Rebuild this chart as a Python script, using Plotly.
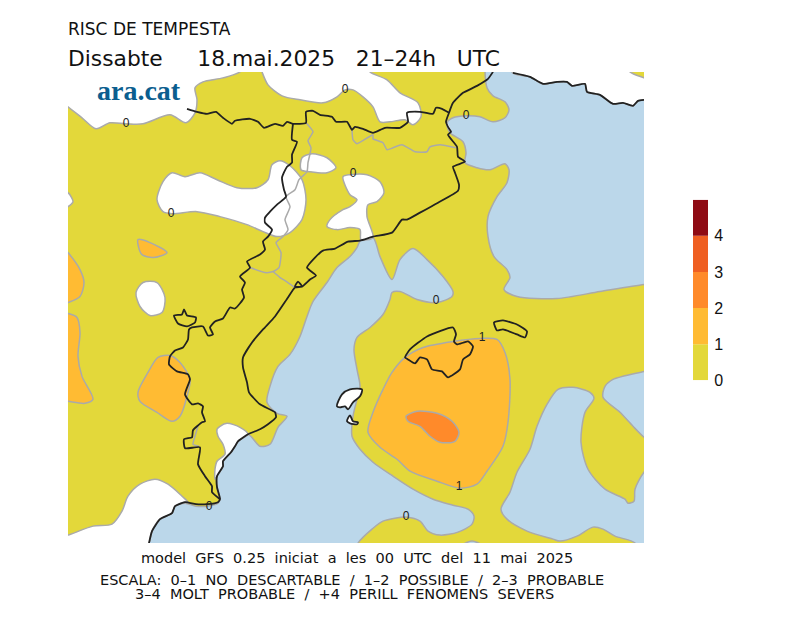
#%% imports

import plotly.graph_objects as go

#%% data (map outlines in map grid units)

map_x_range = [68, 644]
map_y_range = [544, 72]

# risk below 0 over the sea
blue_main = [(361,240),(373,238),(380,257),(392,280),(400,260),(413,249),(427,260),(443,277),(453,292),(452,297),
  (437,303),(417,300),(400,292),(392,293),(390,300),(383,315),(370,328),(357,338),(354,350),(357,370),(360,387),
  (357,400),(353,417),(352,437),(360,450),(373,463),(393,477),(413,490),(433,500),(453,506),(468,510),(474,517),
  (472,525),(458,533),(440,536),(428,532),(420,522),(407,518),(383,522),(372,530),(358,544),(352,560),(140,560),
  (149,544),(152,532),(160,520),(172,514),(175,507),(185,504),(196,507),(207,507),(218,504),(220,500),(217,488),
  (217,477),(223,467),(223,462),(231,453),(235,447),(238,442),(248,435),(260,447),(270,445),(278,428),(287,417),
  (277,414),(267,403),(270,387),(278,367),(290,355),(300,337),(307,317),(313,302),(327,283),(337,268),(350,257),
  (357,248),(361,240)]
blue_north = [(487,60),(487,88),(493,96),(505,102),(509,110),(505,118),(493,122),(480,117),(467,116),(453,118),
  (447,123),(450,133),(463,142),(466,153),(465,163),(477,168),(490,170),(505,164),(509,170),(507,183),(497,197),
  (488,217),(488,237),(494,257),(507,270),(510,278),(504,290),(517,297),(557,299),(600,292),(644,285),(660,283),
  (660,100),(644,100),(638,101),(633,106),(623,103),(613,104),(600,95),(587,92),(585,84),(572,86),(567,82),
  (557,82),(543,84),(530,77),(513,73),(508,60),(487,60)]
blue_east = [(558,390),(573,388),(590,393),(594,399),(585,413),(581,443),(588,470),(605,490),(625,500),(628,504),
  (634,502),(635,490),(644,473),(660,460),(660,560),(640,560),(635,544),(615,537),(603,530),(593,528),(577,537),
  (560,542),(553,540),(527,532),(507,520),(501,510),(510,493),(517,473),(530,450),(537,427),(547,405),(558,390)]
blue_ne = [(660,368),(644,372),(613,380),(605,387),(603,398),(620,413),(633,427),(644,438),(660,450),(660,368)]
blue_bottom = [(456,550),(472,542),(488,550),(456,550)]

# risk below 0 over land
white_nw = [(60,101),(68,107),(82,118),(96,129),(110,123),(126,124),(143,124),(170,115),(186,123),(195,113),(197,100),
  (195,88),(203,82),(223,78),(240,72),(250,60),(60,60),(60,101)]
white_north = [(258,60),(262,72),(268,85),(282,96),(300,100),(323,103),(337,97),(345,90),(353,90),(363,97),(373,107),
  (380,122),(390,122),(405,120),(413,125),(421,117),(418,103),(400,93),(387,80),(370,72),(362,60),(258,60)]
white_west = [(60,190),(68,193),(73,202),(68,207),(60,210),(60,190)]
white_central = [(157,200),(163,182),(172,173),(185,177),(200,173),(217,180),(237,188),(257,188),(268,180),(272,165),
  (280,161),(290,166),(302,180),(306,200),(302,220),(290,233),(277,237),(263,232),(247,225),(220,217),(197,212),
  (172,214),(163,212),(157,200)]
white_small = [(302,158),(312,154),(327,158),(336,168),(327,173),(310,172),(301,170),(302,158)]
white_east = [(350,175),(367,175),(380,182),(384,193),(377,202),(368,205),(367,217),(373,238),(361,240),(360,230),
  (350,228),(337,230),(327,227),(330,220),(343,210),(350,207),(357,200),(350,195),(343,177),(350,175)]
white_oval = [(136,293),(143,283),(157,283),(165,298),(162,313),(150,316),(140,307),(136,293)]
white_south = [(220,427),(227,424),(240,428),(248,435),(238,442),(235,447),(231,453),(223,462),(223,467),(217,477),
  (215,480),(215,470),(217,462),(225,455),(223,445),(218,437),(217,430),(220,427)]
white_sw = [(60,538),(68,536),(93,527),(112,525),(122,512),(128,497),(140,485),(155,480),(168,485),(182,497),(188,503),
  (185,503),(175,507),(172,514),(160,520),(152,532),(149,544),(140,560),(60,560),(60,538)]
white_ne = [(513,73),(530,77),(543,84),(557,82),(567,82),(572,86),(585,84),(587,92),(600,95),(613,104),(623,103),
  (633,106),(638,101),(644,100),(660,100),(660,84),(644,78),(630,72),(622,60),(508,60),(513,73)]
white_sliver = [(447,123),(450,128),(451,133),(448,128),(447,123)]

# risk 1-2
orange_mallorca = [(405,358),(423,348),(453,342),(480,339),(497,340),(505,353),(510,380),(508,423),(503,447),(487,472),
  (477,485),(460,489),(437,482),(410,472),(397,460),(380,448),(368,433),(373,413),(383,390),(392,373),(405,358)]
orange_small = [(138,240),(150,243),(167,253),(153,258),(142,255),(138,245),(138,240)]
orange_edge_a = [(60,245),(68,253),(80,270),(84,283),(80,297),(68,303),(60,305),(60,245)]
orange_edge_b = [(60,313),(68,314),(77,318),(80,333),(78,357),(82,377),(93,400),(85,404),(68,402),(60,401),(60,313)]
orange_inland = [(170,356),(180,363),(190,380),(187,397),(180,417),(172,422),(157,413),(140,402),(138,393),(148,373),
  (158,358),(170,356)]

# risk 2-3
dark_orange = [(406,417),(417,412),(437,414),(452,422),(459,433),(455,442),(440,443),(430,437),(420,427),(408,422),(406,417)]

# inner region borders
grey_west = [(306,123),(313,132),(308,141),(311,148),(308,163),(307,172),(299,180),(295,190),(286,197),(290,207),(285,220),
  (288,230),(283,237),(276,243),(281,253),(279,268),(273,272),(265,273),(250,268)]
grey_delta = [(273,272),(280,278),(285,281),(295,288)]
grey_north = [(352,130),(353,140),(357,144),(373,135),(373,139),(383,143),(387,150),(393,148),(402,145),(415,152),
  (427,152),(430,147),(440,145),(456,148)]
grey_south = [(198,427),(195,437),(193,445),(199,447)]

# coast and outer borders
black_coast = [(149,544),(152,532),(160,520),(172,514),(175,507),(185,503),(196,505),(207,505),(218,503),(220,500),(217,488),
  (217,477),(223,467),(223,462),(231,453),(235,447),(238,442),(248,435),(260,430),(268,425),(276,418),(275,413),
  (260,405),(249,393),(247,383),(243,368),(243,358),(252,343),(263,330),(275,317),(288,298),(295,288),(302,287),
  (298,282),(295,287),(302,287),(310,280),(316,276),(307,268),(315,258),(323,251),(335,249),(348,242),(360,241),
  (373,237),(392,233),(402,220),(407,220),(420,213),(438,203),(458,191),(459,185),(455,173),(453,167),(465,162),
  (458,157),(457,147),(448,135),(451,132),(448,127),(446,122),(449,113),(453,103),(463,93),(477,86),(488,79),(493,72)]
black_inland = [(220,500),(212,493),(212,487),(205,477),(198,465),(200,448),(185,449),(184,440),(192,438),(193,431),
  (202,423),(205,422),(202,413),(203,407),(198,404),(192,405),(185,395),(190,380),(188,375),(177,372),(169,365),
  (170,357),(175,351),(183,348),(188,340),(189,330),(192,328),(203,327),(208,336),(213,335),(210,328),(215,322),
  (223,319),(230,308),(235,309),(244,298),(242,290),(245,283),(240,277),(250,268),(247,262),(260,255),(265,250),
  (263,242),(268,237),(272,230),(265,223),(265,218),(270,212),(277,205),(286,197),(284,190),(282,178),(287,167),
  (292,163),(292,155),(297,142),(292,140),(293,124)]
black_north = [(187,109),(197,112),(207,114),(216,112),(223,118),(232,124),(235,121),(250,119),(258,122),(264,128),
  (275,124),(283,126),(287,122),(293,124),(306,123),(306,112),(313,111),(320,115),(332,117),(336,122),(347,122),
  (352,130),(355,127),(363,129),(373,133),(385,128),(400,128),(408,122),(407,113),(420,112),(433,114),(436,108),
  (442,109),(449,113)]
black_enclave = [(174,316),(182,315),(184,310),(187,316),(196,318),(195,323),(187,327),(178,324),(174,316)]
black_french = [(513,73),(530,77),(543,84),(557,82),(567,82),(572,86),(585,84),(587,92),(600,95),(613,104),(623,103),
  (633,106),(638,101),(644,100)]
black_mallorca = [(405,358),(410,350),(427,337),(453,328),(456,335),(454,342),(457,345),(468,342),(473,347),(470,355),
  (463,360),(460,370),(448,378),(442,372),(432,370),(427,360),(420,358),(415,364),(408,360),(405,358)]
black_menorca = [(494,323),(503,321),(517,325),(527,332),(525,338),(517,335),(503,330),(497,331),(494,323)]
black_ibiza = [(337,407),(342,395),(350,390),(362,390),(360,397),(353,403),(348,410),(345,407),(340,408),(337,407)]
black_formentera = [(347,422),(350,416),(353,422),(358,423),(357,425),(350,424),(347,422)]

# contour labels
label_x = [126, 345, 466, 353, 171, 436, 406, 209, 482, 459]
label_y = [124, 90, 116, 174, 214, 302, 518, 508, 339, 488]
label_text = ['0', '0', '0', '0', '0', '0', '0', '0', '1', '1']

# colour scale
scale_levels = [0, 1, 2, 3, 4]
scale_steps = [1, 1, 1, 1, 1]
scale_colors = ['#e3d83a', '#ffbb33', '#ff8a2a', '#ef5f22', '#8f0b14']

title_top = 'RISC DE TEMPESTA'
title_main = 'Dissabte\u00a0\u00a0\u00a0\u00a0\u00a018.mai.2025\u00a0\u00a0\u00a021–24h\u00a0\u00a0\u00a0UTC'
note_model = 'model GFS 0.25 iniciat a les 00 UTC del 11 mai 2025'
note_scale_a = 'ESCALA: 0–1 NO DESCARTABLE / 1–2 POSSIBLE / 2–3 PROBABLE'
note_scale_b = '3–4 MOLT PROBABLE / +4 PERILL FENOMENS SEVERS'

#%% styles

yellow = scale_colors[0]
orange = scale_colors[1]
darker = scale_colors[2]
blue = '#bbd7ea'
white = '#ffffff'
grey = '#aaaaaa'
ink = '#222222'

WIDTH = 800
HEIGHT = 617
PLOT_H = 609 # plot area comes out 8px short of the page in the browser

#%% functions

def add_patch(fig, pts, color, edge = grey, width = 1.5):
  fig.add_trace(go.Scatter(x = [p[0] for p in pts], y = [p[1] for p in pts],
                           mode = 'lines', fill = 'toself', fillcolor = color,
                           line = dict(color = edge, width = width, shape = 'spline', smoothing = 0.8),
                           hoverinfo = 'skip', xaxis = 'x', yaxis = 'y'))
  return


def add_line(fig, pts, color = ink, width = 1.8):
  fig.add_trace(go.Scatter(x = [p[0] for p in pts], y = [p[1] for p in pts],
                           mode = 'lines',
                           line = dict(color = color, width = width, shape = 'spline', smoothing = 0.5),
                           hoverinfo = 'skip', xaxis = 'x', yaxis = 'y'))
  return


def add_text(fig, text, px, py, size, font = 'DejaVu Sans', anchor = 'left', color = '#111111'):
  fig.add_annotation(text = text, x = px/WIDTH, y = 1 - py/PLOT_H, xref = 'paper', yref = 'paper',
                     xanchor = anchor, yanchor = 'middle', showarrow = False, borderpad = 0,
                     font = dict(family = font, size = size, color = color))
  return

#%% figure

fig = go.Figure()

# frame of the map is the value >= 0 colour, holes go on top of it
add_patch(fig, [(map_x_range[0], map_y_range[0]), (map_x_range[1], map_y_range[0]),
                (map_x_range[1], map_y_range[1]), (map_x_range[0], map_y_range[1]),
                (map_x_range[0], map_y_range[0])], yellow, edge = yellow, width = 0)

for pts in [blue_main, blue_north, blue_east, blue_ne, blue_bottom]:
  add_patch(fig, pts, blue)

for pts in [white_nw, white_north, white_west, white_central, white_small, white_east,
            white_oval, white_south, white_sw, white_ne]:
  add_patch(fig, pts, white)
add_patch(fig, white_sliver, white, edge = white, width = 0)

for pts in [orange_mallorca, orange_small, orange_edge_a, orange_edge_b, orange_inland]:
  add_patch(fig, pts, orange)
add_patch(fig, dark_orange, darker)

for pts in [grey_west, grey_delta, grey_north, grey_south]:
  add_line(fig, pts, color = grey, width = 1.5)

for pts in [black_coast, black_inland, black_north, black_enclave, black_french,
            black_mallorca, black_menorca]:
  add_line(fig, pts)

for pts in [black_ibiza, black_formentera]:
  add_patch(fig, pts, white, edge = ink, width = 1.8)

fig.add_trace(go.Scatter(x = label_x, y = label_y, text = label_text, mode = 'text',
                         textposition = 'middle center',
                         textfont = dict(family = 'Liberation Sans', size = 12, color = '#222222'),
                         hoverinfo = 'skip', xaxis = 'x', yaxis = 'y'))

# colour scale
fig.add_trace(go.Bar(x = [0]*len(scale_levels), y = scale_steps, base = scale_levels, width = 1,
                     marker = dict(color = scale_colors, line_width = 0),
                     hoverinfo = 'skip', xaxis = 'x2', yaxis = 'y2'))

fig.update_layout(width = WIDTH, height = HEIGHT, autosize = False, showlegend = False,
                  margin = dict(l = 0, r = 0, t = 0, b = 0), paper_bgcolor = 'white',
                  plot_bgcolor = 'white', barmode = 'overlay',
                  xaxis = dict(domain = [68/WIDTH, 644/WIDTH], range = map_x_range, visible = False),
                  yaxis = dict(domain = [1 - 544/PLOT_H, 1 - 72/PLOT_H], range = map_y_range, visible = False),
                  xaxis2 = dict(domain = [693/WIDTH, 708/WIDTH], range = [-0.5, 0.5], visible = False),
                  yaxis2 = dict(domain = [1 - 381/PLOT_H, 1 - 200/PLOT_H], range = [0, 5], side = 'right',
                                anchor = 'x2', tickvals = scale_levels, ticks = 'outside', ticklen = 2,
                                tickcolor = 'white', showgrid = False, zeroline = False, showline = False,
                                tickfont = dict(family = 'Liberation Sans', size = 16, color = '#111111')))

wide = '\u00a0\u00a0'
add_text(fig, title_top, 67, 29, 17)
add_text(fig, title_main, 67, 59, 21.8)
add_text(fig, '<b>ara.cat</b>', 96, 91, 28, font = 'Liberation Serif', color = '#0b5e8f')
add_text(fig, note_model.replace(' ', wide), 357, 559, 14.5, anchor = 'center')
add_text(fig, note_scale_a.replace(' ', wide), 352, 581, 14.5, anchor = 'center')
add_text(fig, note_scale_b.replace(' ', wide), 344, 595, 14.5, anchor = 'center')

# page margin off so the figure sits at the window corner
fig.write_html("out.html", config = dict(displayModeBar = False),
               post_script = "document.body.style.margin = '0';")
